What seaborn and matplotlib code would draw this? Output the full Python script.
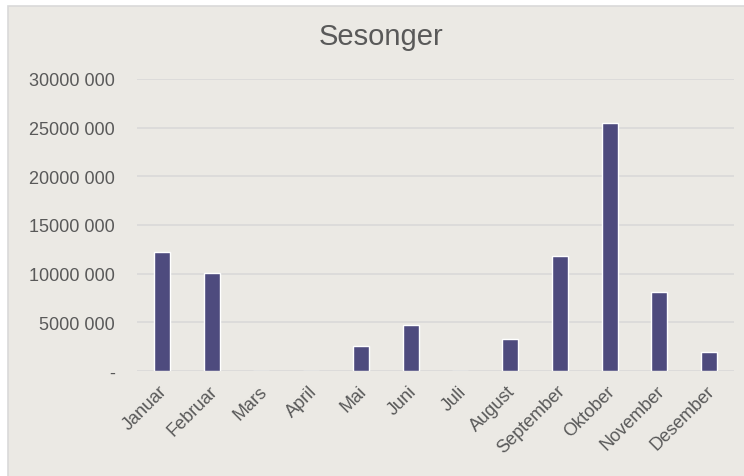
import matplotlib
matplotlib.use("Agg")
import matplotlib.pyplot as plt
from matplotlib.patches import Rectangle
from matplotlib.transforms import ScaledTranslation
import seaborn as sns
import pandas as pd

months = ["Januar", "Februar", "Mars", "April", "Mai", "Juni", "Juli",
          "August", "September", "Oktober", "November", "Desember"]
values = [12200000, 10100000, 0, 0, 2600000, 4750000, 0,
          3300000, 11800000, 25500000, 8100000, 1950000]
y_ticks = [0, 5000000, 10000000, 15000000, 20000000, 25000000, 30000000]
y_tick_labels = ["-", "5000 000", "10000 000", "15000 000",
                 "20000 000", "25000 000", "30000 000"]
title = "Sesonger"

sns.set_theme(style="white")
plt.rcParams["font.family"] = ["Liberation Sans", "DejaVu Sans"]

bg = "#EBE9E4"
text_color = "#595959"
grid_color = "#D9D9D9"
bar_color = "#4E4B7E"

fig = plt.figure(figsize=(7.44, 4.77), dpi=100, facecolor="white")
# chart frame
fig.patches.append(Rectangle((8 / 744, -0.1), 1.1, 1.1 - 6.5 / 477,
                             transform=fig.transFigure, facecolor=bg,
                             edgecolor=grid_color, linewidth=1.2, zorder=-10))

ax = fig.add_axes([137 / 744, 1 - 372 / 477, (734 - 137) / 744, (372 - 80) / 477])
ax.set_zorder(5)
ax.patch.set_alpha(0)

df = pd.DataFrame({"month": months, "value": values})
sns.barplot(data=df, x="month", y="value", color=bar_color, width=0.32,
            saturation=1, ax=ax, zorder=3)

ax.set_ylim(0, 30000000)
ax.set_xlim(-0.5, len(months) - 0.5)
ax.set_yticks(y_ticks)
ax.set_yticklabels(y_tick_labels, fontsize=13, color=text_color)
ax.yaxis.grid(True, color=grid_color, linewidth=1.2, zorder=0)
ax.set_axisbelow(True)
ax.tick_params(axis="y", length=0, pad=16)
ax.tick_params(axis="x", length=0, pad=8)
for s in ax.spines.values():
    s.set_visible(False)
ax.set_xlabel("")
ax.set_ylabel("")
ax.set_xticks(range(len(months)))
ax.set_xticklabels(months, rotation=45, ha="right", va="top",
                   rotation_mode="anchor", fontsize=13, color=text_color)
shift = ScaledTranslation(-3 / 100, 0, fig.dpi_scale_trans)
for lbl in ax.get_xticklabels():
    lbl.set_transform(lbl.get_transform() + shift)

fig.text(381 / 744, 1 - 37 / 477, title, ha="center", va="center",
         fontsize=21, color=text_color)

fig.savefig("out.png", dpi=100, facecolor="white")
